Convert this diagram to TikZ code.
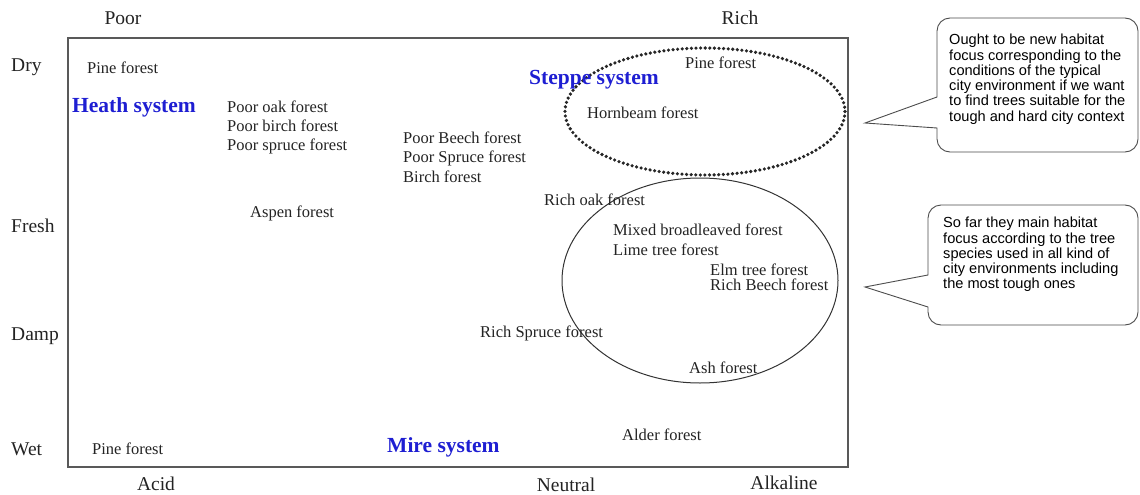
\documentclass[tikz,border=0pt]{standalone}
\usepackage{fontspec}
\setmainfont{Liberation Serif}
\newfontfamily\calloutfont{Liberation Sans}
\definecolor{sysblue}{RGB}{30,30,210}
\definecolor{txt}{RGB}{35,35,35}
\begin{document}
\begin{tikzpicture}[x=1pt,y=-1pt,
  lab/.style={anchor=west,inner sep=0pt,text=txt,font=\fontsize{16.5}{19.5}\selectfont,align=left},
  axis/.style={inner sep=0pt,text=txt,font=\fontsize{19.5}{22}\selectfont},
  sys/.style={anchor=west,inner sep=0pt,text=sysblue,font=\fontsize{21.5}{24}\selectfont\bfseries},
  ctext/.style={anchor=north west,inner sep=0pt,text=black,align=left,font=\calloutfont\fontsize{14.6}{15.3}\selectfont},
  callout/.style={draw=black!70,line width=0.9pt,fill=white}
]
\useasboundingbox (0,0) rectangle (1140,495);
% frame
\draw[black!65,line width=1.6pt] (68,38) rectangle (848,467);
% axis labels
\node[axis] (poor) at (123,18) {Poor};
\node[axis] (rich) at (740,18) {Rich};
\node[axis,anchor=west] (dry) at (11,67) {Dry};
\node[axis,anchor=west] (fresh) at (11,226) {Fresh};
\node[axis,anchor=west] (damp) at (11,336) {Damp};
\node[axis,anchor=west] (wet) at (11,449) {Wet};
\node[axis] (acid) at (156,484) {Acid};
\node[axis] (neutral) at (566,485) {Neutral};
\node[axis] (alkaline) at (784,483) {Alkaline};
% ellipses
\draw[black!85,line width=3.6pt,dash pattern=on 0pt off 4.6pt,line cap=round] (705,111.5) ellipse [x radius=140,y radius=63.5];
\draw[black!80,line width=1pt] (700,280.5) ellipse [x radius=138,y radius=102.5];
% system labels
\node[sys] (heath) at (72,107) {Heath system};
\node[sys] (steppe) at (529,80) {Steppe system};
\node[sys] (mire) at (387,447) {Mire system};
% forest labels
\node[lab] (pine1) at (87,68) {Pine forest};
\node[lab] (poor1) at (227,127.5) {Poor oak forest\\[-0.5pt]Poor birch forest\\[0pt]Poor spruce forest};
\node[lab] (poor2) at (403,157) {Poor Beech forest\\Poor Spruce forest\\Birch forest};
\node[lab] (aspen) at (250,213) {Aspen forest};
\node[lab] (pine2) at (685,63) {Pine forest};
\node[lab] (hornbeam) at (587,113) {Hornbeam forest};
\node[lab] (richoak) at (544,200) {Rich oak forest};
\node[lab] (mixed) at (613,230) {Mixed broadleaved forest};
\node[lab] (lime) at (613,250) {Lime tree forest};
\node[lab] (elm) at (710,270) {Elm tree forest};
\node[lab] (richbeech) at (710,285) {Rich Beech forest};
\node[lab] (richspruce) at (480,333) {Rich Spruce forest};
\node[lab] (ash) at (689,368) {Ash forest};
\node[lab] (pine3) at (92,449) {Pine forest};
\node[lab] (alder) at (622,435) {Alder forest};
% callout 1
\draw[callout] (937,97) [rounded corners=13pt] -- (937,18) -- (1138,18) -- (1138,152) -- (937,152) [sharp corners] -- (937,128) -- (865,123) -- cycle;
\node[ctext] (c1) at (949,34) {Ought to be new habitat\\focus corresponding to the\\conditions of the typical\\city environment if we want\\to find trees suitable for the\\tough and hard city context};
% callout 2
\draw[callout] (928,275) [rounded corners=13pt] -- (928,205) -- (1138,205) -- (1138,325) -- (928,325) [sharp corners] -- (928,307) -- (865,287) -- cycle;
\node[ctext] (c2) at (943,217) {So far they main habitat\\focus according to the tree\\species used in all kind of\\city environments including\\the most tough ones};
\end{tikzpicture}
\end{document}
